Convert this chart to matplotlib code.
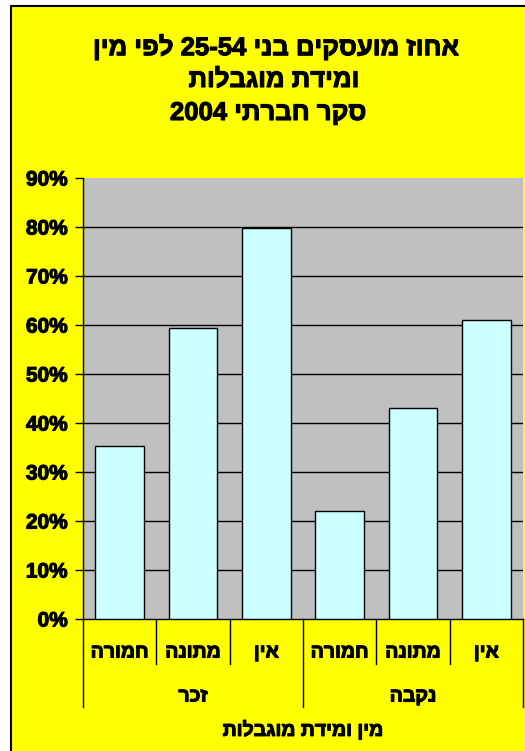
import re
import matplotlib
matplotlib.use("Agg")
import matplotlib.pyplot as plt
import matplotlib.patheffects as pe
from matplotlib.patches import Rectangle
from matplotlib.lines import Line2D
from matplotlib.transforms import blended_transform_factory

plt.rcParams['font.family'] = ['Liberation Sans', 'DejaVu Sans']
plt.rcParams['font.weight'] = 'bold'

# Data
title_lines = ["אחוז מועסקים בני 25-54 לפי מין", "ומידת מוגבלות", "סקר חברתי 2004"]
categories = ["חמורה", "מתונה", "אין", "חמורה", "מתונה", "אין"]
groups = ["זכר", "נקבה"]
values = [0.354, 0.593, 0.798, 0.221, 0.431, 0.610]
yticks = [0.0, 0.1, 0.2, 0.3, 0.4, 0.5, 0.6, 0.7, 0.8, 0.9]
ytick_labels = ["0%", "10%", "20%", "30%", "40%", "50%", "60%", "70%", "80%", "90%"]
axis_title = "מין ומידת מוגבלות"


def visual(s):
    """Right-to-left display order for Hebrew text, keeping number runs left-to-right."""
    r = s[::-1]
    return re.sub(r'[0-9][0-9\-]*[0-9]|[0-9]', lambda m: m.group(0)[::-1], r)


# heavier strokes for the bold text
heavy = [pe.withStroke(linewidth=0.8, foreground='black')]

W, H = 525, 751
fig = plt.figure(figsize=(W / 100, H / 100), dpi=100)
fig.patch.set_facecolor('white')


def fx(px):
    return px / W


def fy(py):
    return (H - py) / H


# Yellow chart frame on a full-figure background axes
bg = fig.add_axes([0, 0, 1, 1], zorder=-10)
bg.set_xlim(0, 1)
bg.set_ylim(0, 1)
bg.axis('off')
bg.add_patch(Rectangle((fx(11), fy(H + 20)), fx(W + 20), (H + 20 - 6) / H,
                       facecolor='#FFFF00', edgecolor='black', linewidth=1.5))

# Title
title_x = [276, 274, 268]
for i, line in enumerate(title_lines):
    fig.text(fx(title_x[i]), fy(47 + 33 * i), visual(line), ha='center', va='center',
             fontsize=18.5, fontweight='bold', path_effects=heavy)

ax = fig.add_axes([fx(83), fy(619), fx(523 - 83), (619 - 178) / H])
ax.set_facecolor('#C0C0C0')
x = list(range(len(values)))
ax.bar(x, values, width=0.66, color='#CCFFFF', edgecolor='black', linewidth=1.0, zorder=3)
ax.set_xlim(-0.5, len(values) - 0.5)
ax.set_ylim(0, 0.9)
for t in yticks[1:-1]:
    ax.axhline(t, color='black', linewidth=1.0, zorder=1)

ax.set_yticks(yticks)
ax.set_yticklabels(ytick_labels, fontsize=15, fontweight='bold')
for lab in ax.get_yticklabels():
    lab.set_path_effects(heavy)
ax.tick_params(axis='y', direction='out', length=6, width=1, pad=5)
ax.set_xticks([])
for s in ['top', 'right']:
    ax.spines[s].set_visible(False)
ax.spines['left'].set_linewidth(1.0)
ax.spines['bottom'].set_linewidth(1.0)

# Category axis: labels and separators
tr = blended_transform_factory(ax.transData, fig.transFigure)
for i, c in enumerate(categories):
    ax.text(i, fy(653), visual(c), transform=tr, ha='center', va='center',
            fontsize=14, fontweight='bold', clip_on=False, path_effects=heavy)
for b in [k - 0.5 for k in range(len(values) + 1)]:
    major = (b + 0.5) % 3 == 0
    bottom = 707 if major else 664
    ax.add_line(Line2D([b, b], [fy(619), fy(bottom)], transform=tr, color='black',
                       linewidth=1.0, clip_on=False))
for g, name in enumerate(groups):
    ax.text(g * 3 + 1, fy(697), visual(name), transform=tr, ha='center', va='center',
            fontsize=14, fontweight='bold', clip_on=False, path_effects=heavy)

fig.text(fx(303), fy(730), visual(axis_title), ha='center', va='center',
         fontsize=14, fontweight='bold', path_effects=heavy)

fig.savefig('out.png', dpi=100)
